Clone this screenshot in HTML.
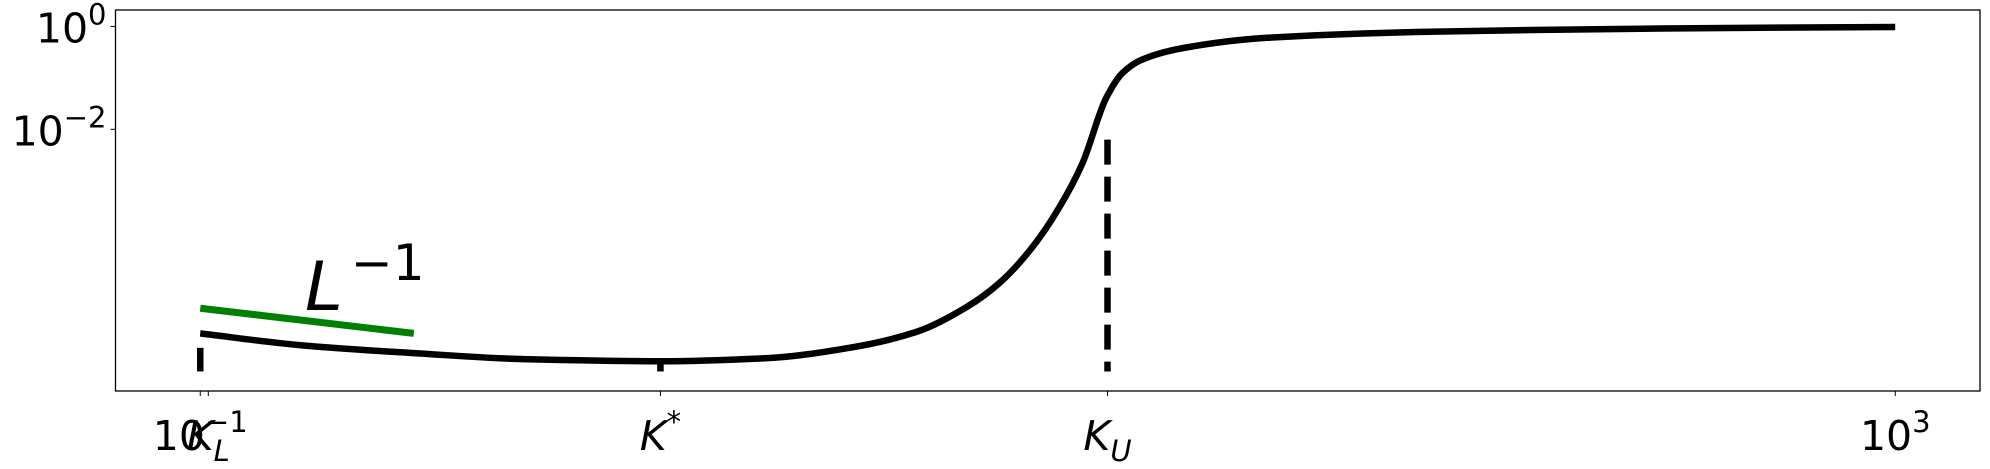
<!DOCTYPE html>
<html><head><meta charset="utf-8"><style>
html,body{margin:0;padding:0;background:#fff;}
svg{display:block;font-family:"DejaVu Sans","Liberation Sans",sans-serif;}
</style></head><body>
<svg id="chart" width="1990" height="469" xmlns="http://www.w3.org/2000/svg"></svg>
<script>
const curveLogX = [-1, -0.763, -0.501, -0.239, 0.089, 0.339, 0.532, 0.690, 0.808, 0.886, 0.964, 1.028, 1.082, 1.138, 1.176, 1.221, 1.320, 1.518, 1.917, 2.446, 3.0];
const curveLogY = [-5.97, -6.20, -6.35, -6.47, -6.51, -6.45, -6.25, -5.94, -5.46, -4.99, -4.29, -3.51, -2.66, -1.39, -0.91, -0.65, -0.42, -0.22, -0.10, -0.04, -0.01];
const guideLogX = [-1, -0.496];
const guideLogY = [-5.48, -5.97];
const markerLogX = [-0.981, 0.086, 1.141];
const dashLogX = [-1, 0.086, 1.141];
const markerTopLogY = [-6.25, -6.51, -2.20];
const markerBottomLogY = -6.71;
const yTickLog = [0, -2];
const yTickLabel = ["0", "\u22122"];
const xTickLog = [-1, 3];
const xTickLabel = ["\u22121", "3"];
const xMarkLabel = ["K_L", "K*", "K_U"];

const L = 115.5, R = 1980, T = 10, B = 391;
const xMin = -1.2, xMax = 3.2, yMin = -7.09, yMax = 0.32;
const sx = v => L + (v - xMin) / (xMax - xMin) * (R - L);
const sy = v => B - (v - yMin) / (yMax - yMin) * (B - T);
const svg = document.getElementById('chart');
const NS = 'http://www.w3.org/2000/svg';
function mk(tag, attrs, parent) {
  const e = document.createElementNS(NS, tag);
  for (const k in attrs) e.setAttribute(k, attrs[k]);
  (parent || svg).appendChild(e);
  return e;
}
const frame = mk('rect', {x: L, y: T, width: R - L, height: B - T, fill: 'none', stroke: '#000', 'stroke-width': 1.3});



yTickLog.forEach((v, i) => {
  const y = sy(v);
  const t = mk('line', {x1: L - 5, x2: L, y1: y, y2: y, stroke: '#000', 'stroke-width': 1});
  
  
  const tx = mk('text', {x: L - 9, y: y + 16, 'text-anchor': 'end', 'font-size': 41});
  
  
  tx.innerHTML = '10<tspan dy="-18" font-size="29">' + yTickLabel[i] + '</tspan>';
});
xTickLog.forEach((v, i) => {
  const x = sx(v);
  const t = mk('line', {x1: x, x2: x, y1: B, y2: B + 5, stroke: '#000', 'stroke-width': 1});
  
  
  const tx = mk('text', {x: x, y: B + 59, 'text-anchor': 'middle', 'font-size': 41});
  
  
  tx.innerHTML = '10<tspan dy="-18" font-size="29">' + xTickLabel[i] + '</tspan>';
});
markerLogX.forEach((v, i) => {
  const x = sx(v);
  const t = mk('line', {x1: x, x2: x, y1: B, y2: B + 5, stroke: '#000', 'stroke-width': 1});
  
  
  const tx = mk('text', {x: x, y: B + 59, 'text-anchor': 'middle', 'font-size': 41, 'font-style': 'italic'});
  
  
  const lab = xMarkLabel[i];
  if (lab === 'K*') tx.innerHTML = 'K<tspan dy="-18" font-size="29" font-style="normal">*</tspan>';
  else tx.innerHTML = 'K<tspan dy="11" font-size="29">' + lab.slice(2) + '</tspan>';
  const dx = sx(dashLogX[i]);
  const d = mk('line', {x1: dx, x2: dx, y1: sy(markerTopLogY[i]), y2: sy(markerBottomLogY), stroke: '#000', 'stroke-width': 6.5, 'stroke-dasharray': '25,12'});
  
  
});
const g = mk('line', {x1: sx(guideLogX[0]), y1: sy(guideLogY[0]), x2: sx(guideLogX[1]), y2: sy(guideLogY[1]), stroke: '#008000', 'stroke-width': 7});


const gl = mk('text', {x: 305, y: 310, 'font-size': 68});


gl.innerHTML = '<tspan font-style="italic">L</tspan><tspan dx="8" dy="-30" font-size="50">\u22121</tspan>';
// monotone cubic (Fritsch-Carlson) through data points in pixel space
const P = curveLogX.map((v, i) => [sx(v), sy(curveLogY[i])]);
const n = P.length;
const dl = [], m = [];
for (let i = 0; i < n - 1; i++) dl.push((P[i + 1][1] - P[i][1]) / (P[i + 1][0] - P[i][0]));
m[0] = dl[0]; m[n - 1] = dl[n - 2];
for (let i = 1; i < n - 1; i++) {
  if (dl[i - 1] * dl[i] <= 0) m[i] = 0;
  else {
    const h0 = P[i][0] - P[i - 1][0], h1 = P[i + 1][0] - P[i][0];
    const w1 = 2 * h1 + h0, w2 = h1 + 2 * h0;
    m[i] = (w1 + w2) / (w1 / dl[i - 1] + w2 / dl[i]);
  }
}
let dstr = 'M' + P[0][0].toFixed(1) + ',' + P[0][1].toFixed(1);
for (let i = 0; i < n - 1; i++) {
  const h = P[i + 1][0] - P[i][0];
  const c1 = [P[i][0] + h / 3, P[i][1] + m[i] * h / 3];
  const c2 = [P[i + 1][0] - h / 3, P[i + 1][1] - m[i + 1] * h / 3];
  dstr += 'C' + c1[0].toFixed(1) + ',' + c1[1].toFixed(1) + ' ' + c2[0].toFixed(1) + ',' + c2[1].toFixed(1) + ' ' + P[i + 1][0].toFixed(1) + ',' + P[i + 1][1].toFixed(1);
}
const c = mk('path', {d: dstr, fill: 'none', stroke: '#000', 'stroke-width': 6.5, 'stroke-linejoin': 'round'});


</script>
</body></html>
